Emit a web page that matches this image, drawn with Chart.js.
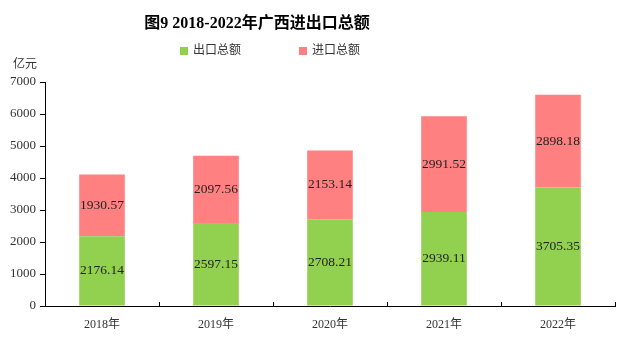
<!DOCTYPE html>
<html>
<head>
<meta charset="utf-8">
<script src="https://cdn.jsdelivr.net/npm/chart.js@4"></script>
<style>
html,body{margin:0;padding:0;background:#fff;}
#wrap{width:617px;height:353px;position:relative;}
</style>
</head>
<body>
<div id="wrap"><canvas id="c" width="617" height="353"></canvas></div>
<script>
const categories = ['2018年','2019年','2020年','2021年','2022年'];
const exportValues = [2176.14, 2597.15, 2708.21, 2939.11, 3705.35];
const importValues = [1930.57, 2097.56, 2153.14, 2991.52, 2898.18];
const seriesNames = ['出口总额','进口总额'];
const titleText = '图9 2018-2022年广西进出口总额';
const unitText = '亿元';
const yTicks = [0,1000,2000,3000,4000,5000,6000,7000];

const SERIF = '"Liberation Serif","DejaVu Serif","Noto Sans CJK SC",serif';
const GREEN = '#92D050';
const PINK = '#FF8080';

const decor = {
  id: 'decor',
  afterDraw(chart) {
    const ctx = chart.ctx;
    ctx.save();
    // title
    ctx.fillStyle = '#000';
    ctx.font = 'bold 16px ' + SERIF;
    ctx.textBaseline = 'middle';
    ctx.textAlign = 'center';
    ctx.fillText(titleText, 257, 24);
    // legend
    ctx.font = '12px ' + SERIF;
    ctx.textAlign = 'left';
    ctx.fillStyle = GREEN;
    ctx.fillRect(180, 47, 8, 8);
    ctx.fillStyle = '#333';
    ctx.fillText(seriesNames[0], 193, 51);
    ctx.fillStyle = PINK;
    ctx.fillRect(299, 47, 8, 8);
    ctx.fillStyle = '#333';
    ctx.fillText(seriesNames[1], 312, 51);
    // unit
    ctx.font = '12px ' + SERIF;
    ctx.fillStyle = '#333';
    ctx.fillText(unitText, 13, 65);
    // x tick marks between categories (pointing up)
    const xs = chart.scales.x;
    const bottom = chart.chartArea.bottom;
    ctx.strokeStyle = '#000';
    ctx.lineWidth = 1;
    for (let i = 1; i <= categories.length; i++) {
      const p = i < categories.length
        ? (xs.getPixelForValue(i - 1) + xs.getPixelForValue(i)) / 2
        : chart.chartArea.right - 0.5;
      const px = Math.round(p) + 0.5;
      ctx.beginPath();
      ctx.moveTo(px, bottom);
      ctx.lineTo(px, bottom - 4);
      ctx.stroke();
    }
    // data labels
    ctx.font = '13.5px ' + SERIF;
    ctx.fillStyle = '#222';
    ctx.textAlign = 'center';
    ctx.textBaseline = 'middle';
    chart.data.datasets.forEach((ds, di) => {
      const meta = chart.getDatasetMeta(di);
      meta.data.forEach((bar, i) => {
        const y = (bar.y + bar.base) / 2;
        ctx.fillText(ds.data[i].toFixed(2), bar.x, y);
      });
    });
    ctx.restore();
  }
};

new Chart(document.getElementById('c'), {
  type: 'bar',
  data: {
    labels: categories,
    datasets: [
      { label: seriesNames[0], data: exportValues, backgroundColor: GREEN, borderWidth: 0 },
      { label: seriesNames[1], data: importValues, backgroundColor: PINK, borderWidth: 0 }
    ]
  },
  options: {
    responsive: false,
    animation: false,
    devicePixelRatio: 1,
    layout: { padding: { top: 82, right: 2, left: 0, bottom: 0 } },
    plugins: { legend: { display: false }, title: { display: false }, tooltip: { enabled: false } },
    datasets: { bar: { categoryPercentage: 1, barPercentage: 0.4 } },
    scales: {
      x: {
        stacked: true,
        afterFit(s) { s.height = 47; },
        grid: { display: false },
        border: { display: true, color: '#000', width: 1 },
        ticks: { color: '#333', font: { family: SERIF, size: 12 }, padding: 4 }
      },
      y: {
        stacked: true,
        min: 0, max: 7000,
        afterFit(s) { s.width = 45; },
        afterBuildTicks(s) { s.ticks = yTicks.map(v => ({ value: v })); },
        grid: { drawOnChartArea: false, drawTicks: true, tickLength: 5, color: '#000' },
        border: { display: true, color: '#000', width: 1 },
        ticks: { color: '#333', font: { family: SERIF, size: 13 }, padding: 4, callback: v => String(v) }
      }
    }
  },
  plugins: [decor]
});
</script>
</body>
</html>
